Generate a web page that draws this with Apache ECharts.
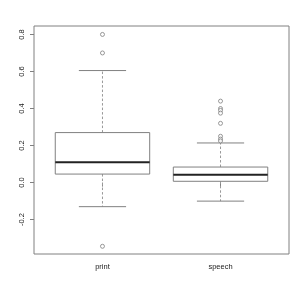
<!DOCTYPE html>
<html>
<head>
<meta charset="utf-8">
<script src="https://cdn.jsdelivr.net/npm/echarts@6/dist/echarts.min.js"></script>
<style>html,body{margin:0;padding:0;background:#fff}#c{width:300px;height:286px}</style>
</head>
<body>
<div id="c"></div>
<script>
const categories = ['print', 'speech'];
const lowerWhisker = [-0.13, -0.10];
const q1 = [0.046, 0.007];
const median = [0.11, 0.043];
const q3 = [0.27, 0.084];
const upperWhisker = [0.605, 0.214];
const printOutliers = [0.80, 0.70, -0.344];
const speechOutliers = [0.44, 0.40, 0.39, 0.375, 0.32, 0.25, 0.235, 0.225];
const yTicks = [-0.2, 0.0, 0.2, 0.4, 0.6, 0.8];

const boxData = categories.map((c, i) => [i + 1, lowerWhisker[i], q1[i], median[i], q3[i], upperWhisker[i]]);
const outlierData = printOutliers.map(v => [1, v]).concat(speechOutliers.map(v => [2, v]));

const chart = echarts.init(document.getElementById('c'), null, {renderer: 'canvas'});
const textColor = '#222';
const lineGray = '#808080';

chart.setOption({
  animation: false,
  backgroundColor: '#fff',
  grid: {left: 34, top: 26, right: 11, bottom: 32, show: true, borderColor: '#808080', borderWidth: 1, backgroundColor: 'transparent'},
  xAxis: {
    type: 'value', min: 0.42, max: 2.58,
    splitLine: {show: false},
    axisLine: {show: false},
    axisTick: {show: true, customValues: [1, 2], length: 4, lineStyle: {color: '#808080'}},
    axisLabel: {customValues: [1, 2], formatter: v => categories[Math.round(v) - 1] || '', color: textColor, fontSize: 7.5, fontFamily: 'Liberation Sans, Arial, sans-serif', margin: 9}
  },
  yAxis: {
    type: 'value', min: -0.3856, max: 0.8456,
    splitLine: {show: false},
    axisLine: {show: false},
    axisTick: {show: true, customValues: yTicks, length: 4, lineStyle: {color: '#808080'}},
    axisLabel: {customValues: yTicks, formatter: v => v.toFixed(1), rotate: 90, color: textColor, fontSize: 7.5, fontFamily: 'Liberation Sans, Arial, sans-serif', margin: 8}
  },
  series: [
    {
      type: 'custom',
      data: boxData,
      encode: {x: 0, y: [1, 2, 3, 4, 5]},
      renderItem: function (params, api) {
        const x = api.value(0);
        const hw = api.size([0.4, 0])[0];
        const cw = hw / 2;
        const pLo = api.coord([x, api.value(1)]);
        const pQ1 = api.coord([x, api.value(2)]);
        const pMed = api.coord([x, api.value(3)]);
        const pQ3 = api.coord([x, api.value(4)]);
        const pHi = api.coord([x, api.value(5)]);
        const cx = pMed[0];
        const gray = {stroke: lineGray, lineWidth: 1};
        const dash = {stroke: '#999', lineWidth: 1, lineDash: [2.5, 2]};
        return {
          type: 'group',
          children: [
            {type: 'line', shape: {x1: cx, y1: pQ3[1], x2: cx, y2: pHi[1]}, style: dash},
            {type: 'line', shape: {x1: cx, y1: pQ1[1], x2: cx, y2: pLo[1]}, style: dash},
            {type: 'line', shape: {x1: cx - cw, y1: pHi[1], x2: cx + cw, y2: pHi[1]}, style: gray},
            {type: 'line', shape: {x1: cx - cw, y1: pLo[1], x2: cx + cw, y2: pLo[1]}, style: gray},
            {type: 'rect', shape: {x: cx - hw, y: pQ3[1], width: 2 * hw, height: pQ1[1] - pQ3[1]}, style: {fill: '#fff', stroke: lineGray, lineWidth: 1}},
            {type: 'line', shape: {x1: cx - hw, y1: pMed[1], x2: cx + hw, y2: pMed[1]}, style: {stroke: '#222', lineWidth: 2}}
          ]
        };
      }
    },
    {
      type: 'scatter',
      data: outlierData,
      symbol: 'circle',
      symbolSize: 4,
      itemStyle: {color: '#fff', borderColor: '#808080', borderWidth: 1}
    }
  ]
});
</script>
</body>
</html>
